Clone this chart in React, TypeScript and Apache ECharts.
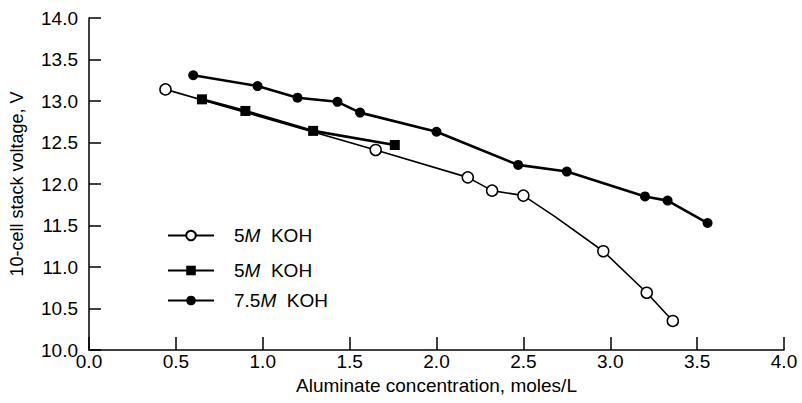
import React, { useEffect, useRef } from "react";
import * as echarts from "echarts";

// 5M KOH (open circles)
const openX = [0.44, 1.65, 2.18, 2.32, 2.5, 2.68, 2.96, 3.21, 3.36];
const openY = [13.14, 12.41, 12.08, 11.92, 11.86, 11.61, 11.19, 10.69, 10.35];
const openHidden = [false, false, false, false, false, true, false, false, false];

// 5M KOH (filled squares)
const sqX = [0.65, 0.9, 1.29, 1.76];
const sqY = [13.02, 12.88, 12.64, 12.47];

// 7.5M KOH (filled circles)
const fcX = [0.6, 0.97, 1.2, 1.43, 1.56, 2.0, 2.47, 2.75, 3.2, 3.33, 3.56];
const fcY = [13.31, 13.18, 13.04, 12.99, 12.86, 12.63, 12.23, 12.15, 11.85, 11.8, 11.53];

const seriesNames = ["open5", "square5", "filled75"];
const legendLabels: Record<string, string> = {
  open5: "5{i|M}  KOH",
  square5: "5{i|M}  KOH",
  filled75: "7.5{i|M}  KOH",
};

const xAxisName = "Aluminate concentration, moles/L";
const yAxisName = "10-cell stack voltage, V";

const FONT = "'Liberation Sans', Arial, Helvetica, sans-serif";

export default function App() {
  const ref = useRef<HTMLDivElement>(null);
  useEffect(() => {
    if (!ref.current) return;
    const chart = echarts.init(ref.current, undefined, { renderer: "svg" });
    const legendRows = [221, 256, 286];
    const legends = seriesNames.map((n, i) => ({
      data: [n],
      left: 162,
      top: legendRows[i],
      itemWidth: 46,
      itemHeight: 12,
      formatter: (name: string) => legendLabels[name],
      textStyle: {
        fontFamily: FONT,
        fontSize: 19,
        color: "#000",
        padding: [0, 0, 0, 15],
        rich: { i: { fontStyle: "italic", fontSize: 19, fontFamily: FONT, color: "#000" } },
      },
      selectedMode: false,
    }));
    chart.setOption({
      animation: false,
      backgroundColor: "#fff",
      textStyle: { fontFamily: FONT },
      grid: { left: 88, right: 18, top: 18, bottom: 53 },
      legend: legends,
      xAxis: {
        type: "value",
        min: 0,
        max: 4,
        interval: 0.5,
        name: xAxisName,
        nameLocation: "middle",
        nameGap: 16,
        nameTextStyle: { fontSize: 19, color: "#000", fontFamily: FONT },
        axisLine: { lineStyle: { color: "#000", width: 1.5 } },
        axisTick: { inside: true, length: 13, lineStyle: { color: "#000", width: 1.5 } },
        axisLabel: {
          fontSize: 19,
          color: "#000",
          margin: 2,
          fontFamily: FONT,
          formatter: (v: number) => v.toFixed(1),
        },
        splitLine: { show: false },
      },
      yAxis: {
        type: "value",
        min: 10,
        max: 14,
        interval: 0.5,
        name: yAxisName,
        nameLocation: "middle",
        nameRotate: 90,
        nameGap: 63,
        nameTextStyle: { fontSize: 18, color: "#000", fontFamily: FONT },
        axisLine: { show: true, lineStyle: { color: "#000", width: 1.5 } },
        axisTick: { inside: true, length: 12, lineStyle: { color: "#000", width: 1.5 } },
        axisLabel: {
          fontSize: 19,
          color: "#000",
          margin: 11,
          fontFamily: FONT,
          formatter: (v: number) => v.toFixed(1),
        },
        splitLine: { show: false },
      },
      series: [
        {
          name: "square5",
          type: "line",
          z: 2,
          symbol: "rect",
          symbolSize: 10,
          data: sqX.map((x, i) => [x, sqY[i]]),
          lineStyle: { color: "#000", width: 2.6 },
          itemStyle: { color: "#000" },
        },
        {
          name: "filled75",
          type: "line",
          z: 2,
          symbol: "circle",
          symbolSize: 10,
          data: fcX.map((x, i) => [x, fcY[i]]),
          lineStyle: { color: "#000", width: 2.6 },
          itemStyle: { color: "#000" },
        },
        {
          name: "open5",
          type: "line",
          z: 3,
          symbol: "circle",
          symbolSize: 11,
          data: openX.map((x, i) =>
            openHidden[i]
              ? { value: [x, openY[i]], symbol: "none" }
              : { value: [x, openY[i]] }
          ),
          lineStyle: { color: "#000", width: 1.6 },
          itemStyle: { color: "#fff", borderColor: "#000", borderWidth: 1.5 },
        },
      ],
    });
    return () => chart.dispose();
  }, []);
  return (
    <div
      ref={ref}
      style={{ position: "absolute", left: 0, top: 0, width: 802, height: 403 }}
    />
  );
}
